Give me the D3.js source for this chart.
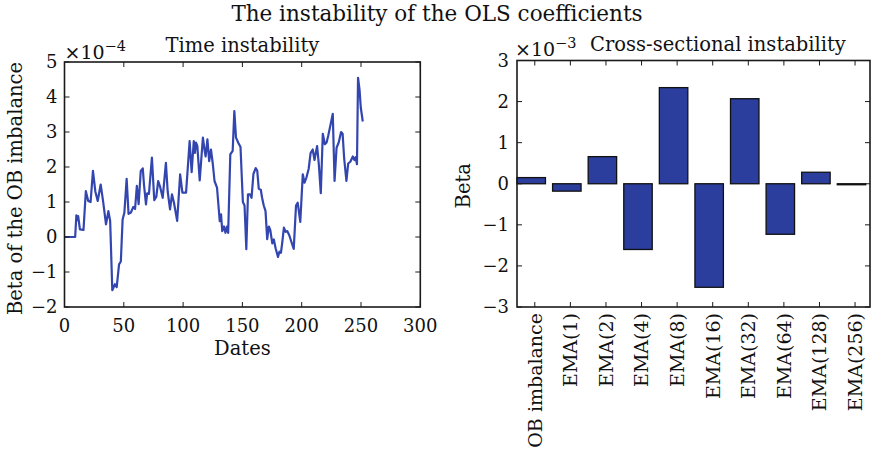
<!DOCTYPE html>
<html>
<head>
<meta charset="utf-8">
<script src="https://cdn.jsdelivr.net/npm/d3@7"></script>
<style>
  html, body { margin: 0; padding: 0; background: #fff; }
  svg text { font-family: "DejaVu Serif", "Liberation Serif", serif; fill: #111; }
</style>
</head>
<body>
<svg id="chart" width="874" height="452"></svg>
<script>
// ---------- data ----------
// Left panel: beta of the OB imbalance over dates (values in units of 1e-4)
const dates = [0, 9, 10, 11, 11.5, 13, 16, 18, 20, 22, 24, 26, 28, 30.5, 32.5, 35, 37, 38.5, 40.3, 42.5, 44, 46, 47.5, 49, 50.5, 52.4, 54, 56, 58, 59.5, 61, 62.5, 64.3, 66, 67, 68.7, 69.7, 71.2, 73.7, 75.7, 77.4, 79, 80.5, 82.8, 85.5, 87, 89, 90.6, 92.3, 95, 97.5, 99.4, 102.5, 105.5, 107.2, 109, 110, 110.8, 112, 114, 116.7, 118.2, 119, 120.5, 122, 123.5, 125, 126.5, 128.6, 130.9, 132, 133, 134.5, 135.7, 137, 138, 139.8, 141.8, 143.2, 144.6, 146.4, 148.4, 150.4, 151.8, 153.3, 154.7, 156.3, 157.7, 159.3, 161.2, 162.5, 163.8, 165.5, 166.6, 168, 169.5, 170.9, 172.3, 173.5, 175.2, 176.5, 178, 180, 181.2, 182.5, 183.6, 185, 186.4, 187.8, 189.5, 191.4, 193.3, 195.2, 196.6, 198.8, 200.9, 202.4, 204, 205.9, 207.5, 209.3, 210.8, 211.6, 213, 214.5, 216.1, 217.8, 219.5, 221, 222.4, 224.4, 226.2, 227.7, 229.4, 231.2, 233.2, 234.5, 235.8, 237.7, 239.2, 241, 243.1, 244.5, 245.5, 246.6, 247.5, 248.8, 249.8, 251.5];
const timeBetaE4 = [0, 0, 0.62, 0.48, 0.6, 0.22, 0.2, 1.31, 1.03, 1.0, 1.89, 1.3, 1.03, 1.5, 1.03, 0.36, 0.74, 0.46, -1.52, -1.35, -1.43, -0.78, -0.7, 0.5, 0.7, 1.66, 0.66, 0.7, 0.86, 0.8, 1.46, 0.94, 1.89, 1.96, 1.5, 0.93, 1.25, 1.23, 2.27, 1.05, 1.15, 1.6, 1.45, 1.12, 2.12, 1.3, 0.79, 1.22, 0.98, 0.46, 1.79, 1.27, 1.27, 2.74, 1.85, 2.74, 2.4, 2.7, 2.6, 1.62, 2.84, 2.46, 2.3, 2.79, 2.17, 2.5, 2.1, 1.6, 1.41, 0.45, 0.65, 0.17, 0.3, 0.12, 0.3, 0.12, 2.36, 2.46, 3.6, 2.84, 2.7, 2.57, 1.0, 0.9, -0.35, 1.22, 1.22, 1.12, 1.8, 1.97, 1.9, 1.38, 1.35, 1.12, 0.9, 0.74, -0.06, 0.3, 0.2, -0.18, -0.07, -0.32, -0.57, -0.42, -0.45, -0.16, 0.27, 0.15, 0.17, 0.05, -0.15, -0.34, 0.9, 0.98, 0.43, 1.79, 1.55, 1.7, 1.95, 2.4, 2.5, 2.2, 2.35, 2.6, 2.05, 1.25, 2.95, 2.65, 2.7, 2.9, 3.22, 3.52, 1.6, 2.55, 2.7, 3.0, 2.95, 2.25, 1.6, 2.1, 2.15, 2.3, 2.2, 2.28, 2.08, 4.55, 4.2, 3.7, 3.3];
const leftXTicks = [0, 50, 100, 150, 200, 250, 300];
const leftYTicks = [-2, -1, 0, 1, 2, 3, 4, 5];

// Right panel: cross-sectional betas (values in units of 1e-3)
const categories = ["OB imbalance", "EMA(1)", "EMA(2)", "EMA(4)", "EMA(8)", "EMA(16)", "EMA(32)", "EMA(64)", "EMA(128)", "EMA(256)"];
const crossBetaE3 = [0.15, -0.18, 0.66, -1.6, 2.34, -2.52, 2.07, -1.23, 0.28, -0.02];
const rightYTicks = [-3, -2, -1, 0, 1, 2, 3];

// ---------- drawing ----------
const svg = d3.select("#chart");
const lineColor = "#3346b0";
const barColor = "#2b3d9d";
const frameColor = "#1a1a1a";
const fmt = d => d < 0 ? "\u2212" + Math.abs(d) : String(d);

svg.append("text")
  .attr("x", 437).attr("y", 21)
  .attr("text-anchor", "middle")
  .style("font-size", "21.5px")
  .text("The instability of the OLS coefficients");

function frameAndTicks(g, x, y, xTickVals, yTickVals, L, R, T, B) {
  const tl = 5;
  g.selectAll(".xtb").data(xTickVals).join("line")
    .attr("class", "xtb")
    .attr("x1", d => x(d)).attr("x2", d => x(d))
    .attr("y1", B).attr("y2", B - tl)
    .attr("stroke", frameColor).attr("stroke-width", 1);
  g.selectAll(".xtt").data(xTickVals).join("line")
    .attr("class", "xtt")
    .attr("x1", d => x(d)).attr("x2", d => x(d))
    .attr("y1", T).attr("y2", T + tl)
    .attr("stroke", frameColor).attr("stroke-width", 1);
  g.selectAll(".ytl").data(yTickVals).join("line")
    .attr("class", "ytl")
    .attr("x1", L).attr("x2", L + tl)
    .attr("y1", d => y(d)).attr("y2", d => y(d))
    .attr("stroke", frameColor).attr("stroke-width", 1);
  g.selectAll(".ytr").data(yTickVals).join("line")
    .attr("class", "ytr")
    .attr("x1", R).attr("x2", R - tl)
    .attr("y1", d => y(d)).attr("y2", d => y(d))
    .attr("stroke", frameColor).attr("stroke-width", 1);
  g.append("rect")
    .attr("x", L).attr("y", T).attr("width", R - L).attr("height", B - T)
    .attr("fill", "none").attr("stroke", frameColor).attr("stroke-width", 1.6);
}

// ----- left panel -----
{
  const L = 64.5, R = 420.3, T = 62, B = 307;
  const x = d3.scaleLinear().domain([0, 300]).range([L, R]);
  const y = d3.scaleLinear().domain([-2, 5]).range([B, T]);
  const g = svg.append("g");

  const line = d3.line().x((d, i) => x(dates[i])).y(d => y(d));
  g.append("path")
    .datum(timeBetaE4)
    .attr("d", line)
    .attr("fill", "none")
    .attr("stroke", lineColor)
    .attr("stroke-width", 2.2)
    .attr("stroke-linejoin", "round");

  frameAndTicks(g.append("g"), x, y, leftXTicks, leftYTicks, L, R, T, B);

  g.append("g").selectAll("text").data(leftYTicks).join("text")
    .attr("x", L - 7).attr("y", d => y(d))
    .attr("dy", "0.36em")
    .attr("text-anchor", "end")
    .style("font-size", "18px")
    .text(fmt);
  g.append("g").selectAll("text").data(leftXTicks).join("text")
    .attr("x", d => x(d)).attr("y", B + 25)
    .attr("text-anchor", "middle")
    .style("font-size", "18px")
    .text(fmt);

  const off = g.append("text").attr("x", L).attr("y", 59).style("font-size", "19px");
  off.append("tspan").text("\u00d710");
  off.append("tspan").attr("dy", -8).style("font-size", "14.5px").text("\u22124");

  g.append("text")
    .attr("x", (L + R) / 2).attr("y", 52)
    .attr("text-anchor", "middle")
    .style("font-size", "19.5px")
    .text("Time instability");

  g.append("text")
    .attr("x", (L + R) / 2).attr("y", 355)
    .attr("text-anchor", "middle")
    .style("font-size", "19.5px")
    .text("Dates");

  g.append("text")
    .attr("transform", `translate(22,${(T + B) / 2 + 4}) rotate(-90)`)
    .attr("text-anchor", "middle")
    .style("font-size", "19.5px")
    .text("Beta of the OB imbalance");
}

// ----- right panel -----
{
  const L = 517, R = 870, T = 60.5, B = 307;
  const x = d3.scaleLinear().domain([0, 9.92]).range([L, R]);
  const y = d3.scaleLinear().domain([-3, 3]).range([B, T]);
  const g = svg.append("g");
  const idx = categories.map((c, i) => i);

  g.append("g").selectAll("rect").data(crossBetaE3).join("rect")
    .attr("x", (d, i) => x(i))
    .attr("width", x(0.8) - x(0))
    .attr("y", d => y(Math.max(0, d)))
    .attr("height", d => Math.max(1, Math.abs(y(d) - y(0))))
    .attr("fill", barColor)
    .attr("stroke", "#111")
    .attr("stroke-width", 1.3);

  const tickPos = idx.map(i => i + 0.5);
  frameAndTicks(g.append("g"), x, y, tickPos, rightYTicks, L, R, T, B);

  g.append("g").selectAll("text").data(rightYTicks).join("text")
    .attr("x", L - 8).attr("y", d => y(d))
    .attr("dy", "0.36em")
    .attr("text-anchor", "end")
    .style("font-size", "18px")
    .text(fmt);

  g.append("g").selectAll("text").data(categories).join("text")
    .attr("transform", (d, i) => `translate(${x(i + 0.5)},${B + 6}) rotate(-90)`)
    .attr("dy", "0.36em")
    .attr("text-anchor", "end")
    .style("font-size", "19px")
    .text(d => d);

  const off = g.append("text").attr("x", L - 2).attr("y", 56).style("font-size", "19px");
  off.append("tspan").text("\u00d710");
  off.append("tspan").attr("dy", -8).style("font-size", "14.5px").text("\u22123");

  g.append("text")
    .attr("x", 718).attr("y", 51)
    .attr("text-anchor", "middle")
    .style("font-size", "19.5px")
    .text("Cross-sectional instability");

  g.append("text")
    .attr("transform", `translate(470,${(T + B) / 2 + 2}) rotate(-90)`)
    .attr("text-anchor", "middle")
    .style("font-size", "19.5px")
    .text("Beta");
}
</script>
</body>
</html>
